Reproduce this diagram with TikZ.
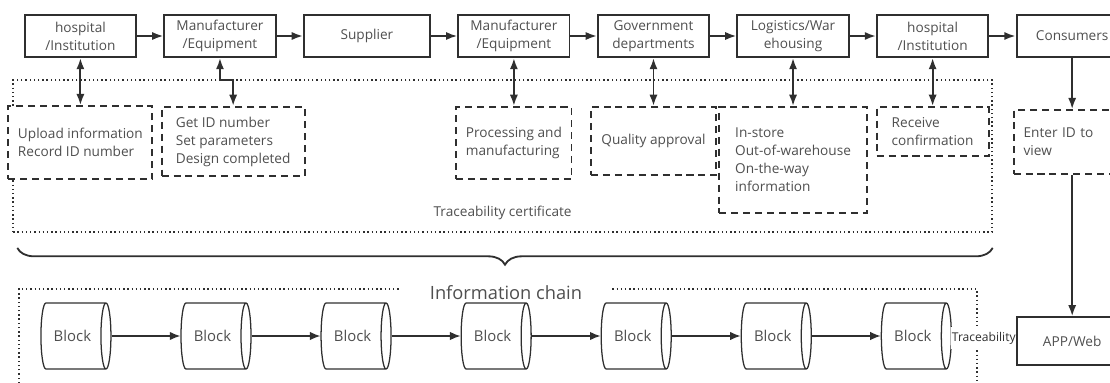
\documentclass[tikz,border=0pt]{standalone}
\usepackage{fontspec}
\setmainfont{Open Sans}
\usepackage{xcolor}
\usepackage{tikz}
\usetikzlibrary{shapes,arrows,arrows.meta,positioning,decorations.pathreplacing}

\definecolor{linegray}{HTML}{2F2F2F}
\definecolor{textgray}{HTML}{4F4F4F}

\begin{document}
\begin{tikzpicture}[
    font=\fontsize{9.7}{12.8}\selectfont,
    text=textgray,
    node distance=0.66cm,
    stage/.style={draw=linegray, line width=1.4pt, rectangle, minimum width=2.78cm, minimum height=1.05cm, align=center, inner sep=1pt},
    record/.style={draw=linegray, line width=1.4pt, dash pattern=on 5pt off 3.5pt, fill=white, rectangle, align=left},
    block/.style={draw=linegray, line width=0.9pt, cylinder, aspect=0.7, minimum height=1.75cm, minimum width=1.65cm, inner sep=1pt, font=\fontsize{10.6}{12}\selectfont},
    cert/.style={draw=linegray, line width=1pt, dash pattern=on 1pt off 2pt},
    brace/.style={draw=linegray, line width=1.3pt, decorate, decoration={brace, amplitude=0.42cm}},
    arrow/.style={->, >={Latex[length=8pt, width=5.8pt]}, line width=1.4pt, draw=linegray},
    twoway/.style={<->, >={Latex[length=8pt, width=5.8pt]}, line width=1.4pt, draw=linegray},
    link/.style={->, >={Latex[length=7.5pt, width=6pt]}, line width=1pt, draw=linegray}
]
    \useasboundingbox (0,0) rectangle (27.75,-9.55);

    % dotted frame of the certificate part
    \node[cert, minimum width=24.47cm, minimum height=3.8cm] (certbox) at (12.565,-3.9) {};
    \node[above=0.2cm of certbox.south] (certlabel) {Traceability certificate};

    % chain of stages
    \node[stage] (hosp1) at (2.01,-0.9) {hospital\\/Institution};
    \node[stage, right=of hosp1] (manu1) {Manufacturer\\/Equipment};
    \node[stage, right=of manu1, minimum width=3.15cm] (supp) {Supplier};
    \node[stage, right=of supp] (manu2) {Manufacturer\\/Equipment};
    \node[stage, right=of manu2] (gov) {Government\\departments};
    \node[stage, right=of gov] (logi) {Logistics/War\\ehousing};
    \node[stage, right=of logi] (hosp2) {hospital\\/Institution};
    \node[stage, right=of hosp2] (cons) {Consumers};

    % records written at each stage
    \node[record, below=1.18cm of hosp1, minimum width=3.6cm, minimum height=1.83cm] (upload) {Upload information\\Record ID number};
    \node[record, below=1.2cm of manu1, xshift=0.33cm, minimum width=3.58cm, minimum height=1.73cm] (design) {Get ID number\\Set parameters\\Design completed};
    \node[record, below=1.2cm of manu2, minimum width=2.88cm, minimum height=1.8cm] (process) {Processing and\\manufacturing};
    \node[record, below=1.2cm of gov, minimum width=3.13cm, minimum height=1.7cm] (quality) {Quality approval};
    \node[record, below=1.2cm of logi, minimum width=3.68cm, minimum height=2.65cm] (store) {In-store\\Out-of-warehouse\\On-the-way\\information};
    \node[record, below=1.2cm of hosp2, minimum width=2.8cm, minimum height=1.23cm] (receive) {Receive\\confirmation};
    \node[record, below=1.28cm of cons, text width=2.43cm, inner xsep=0.25cm, minimum height=1.6cm] (enter) {Enter ID to\\view};

    \node[stage, below=3.53cm of enter, minimum height=1.18cm] (app) {APP/Web};

    \draw[brace] ([yshift=-0.38cm]certbox.south east) -- ([xshift=0.12cm, yshift=-0.38cm]certbox.south west);

    % information chain frame, open at the bottom
    \draw[cert] (0.475,-10) |- (24.425,-7.225) -- (24.425,-10);
    \node[fill=white, inner xsep=0.75cm, font=\fontsize{13}{15}\selectfont] (chainlabel) at (12.65,-7.32) {Information chain};

    \node[block] (blk1) at (1.81,-8.4) {Block};
    \node[block, right=1.72cm of blk1] (blk2) {Block};
    \node[block, right=1.72cm of blk2] (blk3) {Block};
    \node[block, right=1.72cm of blk3] (blk4) {Block};
    \node[block, right=1.72cm of blk4] (blk5) {Block};
    \node[block, right=1.72cm of blk5] (blk6) {Block};
    \node[block, right=1.72cm of blk6] (blk7) {Block};

    \draw[arrow] (hosp1) -- (manu1);
    \draw[arrow] (manu1) -- (supp);
    \draw[arrow] (supp) -- (manu2);
    \draw[arrow] (manu2) -- (gov);
    \draw[arrow] (gov) -- (logi);
    \draw[arrow] (logi) -- (hosp2);
    \draw[arrow] (hosp2) -- (cons);

    \draw[twoway] (hosp1) -- (upload);
    \draw[twoway] (manu1.south) -- ++(0,-0.55) -| (design.north);
    \draw[twoway] (manu2) -- (process);
    \draw[twoway] (gov) -- (quality);
    \draw[twoway] (logi) -- (store);
    \draw[twoway] (hosp2) -- (receive);

    \draw[arrow] (cons) -- (enter);
    \draw[arrow] (enter) -- (app);

    \draw[link] (blk1) -- (blk2);
    \draw[link] (blk2) -- (blk3);
    \draw[link] (blk3) -- (blk4);
    \draw[link] (blk4) -- (blk5);
    \draw[link] (blk5) -- (blk6);
    \draw[link] (blk6) -- (blk7);
    \draw[linegray, line width=1pt] (blk7) -- node[fill=white, inner xsep=0.5pt, font=\fontsize{8.6}{10}\selectfont] (tracelabel) {Traceability} (app);
\end{tikzpicture}
\end{document}
